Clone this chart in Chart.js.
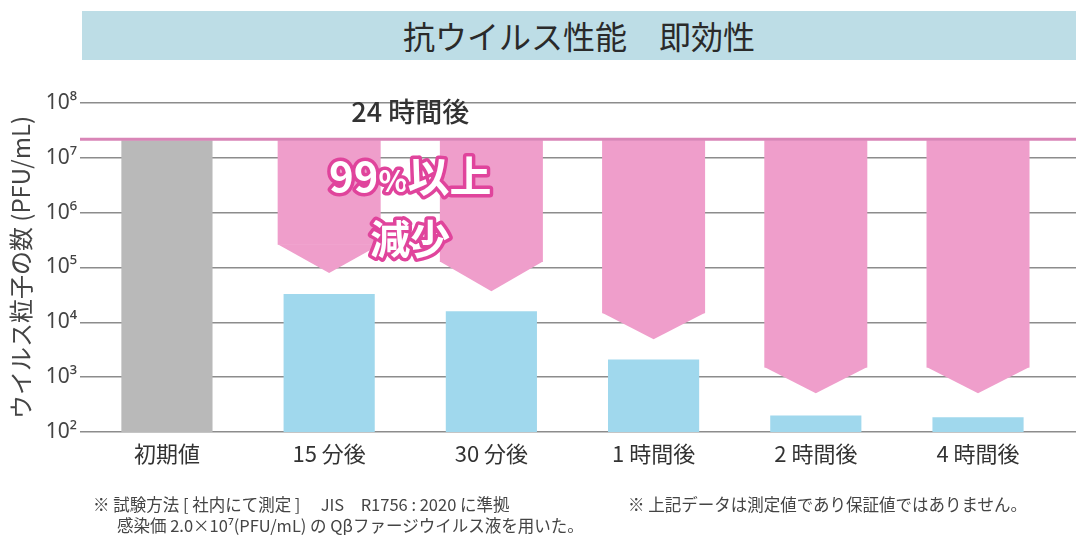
<!DOCTYPE html>
<html>
<head>
<meta charset="utf-8">
<script src="https://cdn.jsdelivr.net/npm/chart.js@4"></script>
<style>
    body { margin: 0; background: #fff; font-family: "Noto Sans CJK JP", "Noto Sans", sans-serif; }
    #wrap { position: relative; width: 1076px; height: 543px; overflow: hidden; }
    #chartBox { position: absolute; left: 0; top: 0; width: 1076px; height: 543px; }
    #banner {
        position: absolute; left: 82px; top: 11px; width: 994px; height: 49px;
        background: #bddde6; color: #2a2a2a; font-size: 32px; line-height: 49px; text-align: center;
    }
    .note { position: absolute; font-size: 16.5px; color: #444; white-space: pre; line-height: 21px; }
</style>
</head>
<body>
<div id="wrap">
    <div id="chartBox"><canvas id="barChart"></canvas></div>
    <div id="banner">抗ウイルス性能　即効性</div>
    <div class="note" style="left:93px; top:494px;">※ 試験方法 [ 社内にて測定 ]　 JIS　R1756 : 2020 に準拠</div>
    <div class="note" style="left:117px; top:515px;">感染価 2.0×10⁷(PFU/mL) の Qβファージウイルス液を用いた。</div>
    <div class="note" style="left:628px; top:494px;">※ 上記データは測定値であり保証値ではありません。</div>
</div>
<script>
var categories = ["初期値", "15 分後", "30 分後", "1 時間後", "2 時間後", "4 時間後"];
var initial_value = 2.1e7;
var remaining_values = [null, 3.3e4, 1.6e4, 2.1e3, 2.0e2, 1.85e2];
var arrow_shoulder = [null, 2.6e5, 1.26e5, 1.47e4, 1.5e3, 1.5e3];
var arrow_tip = [null, 7.9e4, 3.7e4, 4.9e3, 5.1e2, 5.1e2];
var y_exponents = [2, 3, 4, 5, 6, 7, 8];
var superscripts = { 2: "²", 3: "³", 4: "⁴", 5: "⁵", 6: "⁶", 7: "⁷", 8: "⁸" };

var PINK = "#ef9ecb";
var PINK_LINE = "#d985b7";

Chart.defaults.font.family = '"Noto Sans CJK JP", "Noto Sans", sans-serif';

var barData = [{ x: 0, y: initial_value }];
remaining_values.forEach(function (v, i) {
    if (v != null) barData.push({ x: i, y: v });
});
var barColors = barData.map(function (d) { return d.x === 0 ? "#b9b9b9" : "#a0d8ed"; });

var arrowData = [];
arrow_shoulder.forEach(function (v, i) {
    if (v != null) arrowData.push({ x: i, y: [v, initial_value] });
});

//- arrow tips, pink baseline, labels -
var overlayPlugin = {
    id: "overlay",
    afterDatasetsDraw: function (chart) {
        var ctx = chart.ctx;
        var yScale = chart.scales.y;
        var xScale = chart.scales.x;
        var area = chart.chartArea;
        var meta = chart.getDatasetMeta(0);

        ctx.save();
        ctx.fillStyle = PINK;
        meta.data.forEach(function (bar, k) {
            var idx = arrowData[k].x;
            var half = bar.width / 2;
            var ys = yScale.getPixelForValue(arrow_shoulder[idx]);
            var yt = yScale.getPixelForValue(arrow_tip[idx]);
            ctx.beginPath();
            ctx.moveTo(bar.x - half, ys - 0.5);
            ctx.lineTo(bar.x + half, ys - 0.5);
            ctx.lineTo(bar.x, yt);
            ctx.closePath();
            ctx.fill();
        });

        var yLine = yScale.getPixelForValue(initial_value);
        ctx.strokeStyle = PINK_LINE;
        ctx.lineWidth = 3;
        ctx.beginPath();
        ctx.moveTo(area.left, yLine - 1);
        ctx.lineTo(area.right, yLine - 1);
        ctx.stroke();

        var cx = xScale.getPixelForValue(1.5);
        ctx.textAlign = "center";
        ctx.textBaseline = "middle";
        ctx.fillStyle = "#333";
        ctx.font = '500 27px "Noto Sans CJK JP"';
        ctx.fillText("24 時間後", cx, 112);

        // 99%以上 / 減少
        var parts = [
            { t: "99", size: 42 },
            { t: "%", size: 30 },
            { t: "以上", size: 42 },
        ];
        var total = 0;
        parts.forEach(function (p) {
            ctx.font = 'bold ' + p.size + 'px "Noto Sans CJK JP"';
            p.w = ctx.measureText(p.t).width;
            total += p.w;
        });
        var px = cx - total / 2;
        ctx.textAlign = "left";
        ctx.textBaseline = "alphabetic";
        ctx.lineJoin = "round";
        parts.forEach(function (p) {
            ctx.font = 'bold ' + p.size + 'px "Noto Sans CJK JP"';
            ctx.strokeStyle = "#e0449c";
            ctx.lineWidth = 7;
            ctx.strokeText(p.t, px, 192);
            ctx.fillStyle = "#fff";
            ctx.fillText(p.t, px, 192);
            px += p.w;
        });
        ctx.textAlign = "center";
        ctx.font = 'bold 40px "Noto Sans CJK JP"';
        ctx.strokeText("減少", cx, 254);
        ctx.fillText("減少", cx, 254);
        ctx.restore();
    },
};

new Chart(document.getElementById("barChart").getContext("2d"), {
    type: "bar",
    data: {
        datasets: [
            {
                data: arrowData,
                backgroundColor: PINK,
                grouped: false,
                barPercentage: 1,
                categoryPercentage: 0.635,
            },
            {
                data: barData,
                backgroundColor: barColors,
                grouped: false,
                barPercentage: 1,
                categoryPercentage: 0.562,
            },
        ],
    },
    options: {
        responsive: true,
        maintainAspectRatio: false,
        devicePixelRatio: 1,
        animation: false,
        layout: { padding: { top: 103, bottom: 51, left: 0, right: 0 } },
        plugins: { legend: { display: false }, tooltip: { enabled: false } },
        scales: {
            x: {
                type: "linear",
                min: -0.536,
                max: 5.604,
                offset: false,
                grid: { display: false, drawTicks: false },
                border: { display: false },
                afterBuildTicks: function (scale) {
                    scale.ticks = categories.map(function (_, i) { return { value: i }; });
                },
                afterFit: function (scale) { scale.height = 60; },
                ticks: {
                    autoSkip: false,
                    maxRotation: 0,
                    padding: 8,
                    color: "#333",
                    font: { size: 22 },
                    callback: function (value) { return categories[value]; },
                },
            },
            y: {
                type: "logarithmic",
                min: 100,
                max: 1e8,
                stacked: false,
                afterBuildTicks: function (scale) {
                    scale.ticks = y_exponents.map(function (e) { return { value: Math.pow(10, e) }; });
                },
                afterFit: function (scale) { scale.width = 80; },
                grid: { color: "#8c8c8c", lineWidth: 1.5, drawTicks: false },
                border: { display: false },
                ticks: {
                    padding: 3,
                    color: "#444",
                    font: { size: 21, family: "'Noto Sans', 'DejaVu Sans', sans-serif" },
                    callback: function (value) {
                        var e = Math.round(Math.log10(value));
                        return "10" + superscripts[e];
                    },
                },
                title: {
                    display: true,
                    text: "ウイルス粒子の数 (PFU/mL)",
                    color: "#444",
                    font: { size: 24 },
                    padding: { top: 6, bottom: 0 },
                },
            },
        },
    },
    plugins: [overlayPlugin],
});
</script>
</body>
</html>
